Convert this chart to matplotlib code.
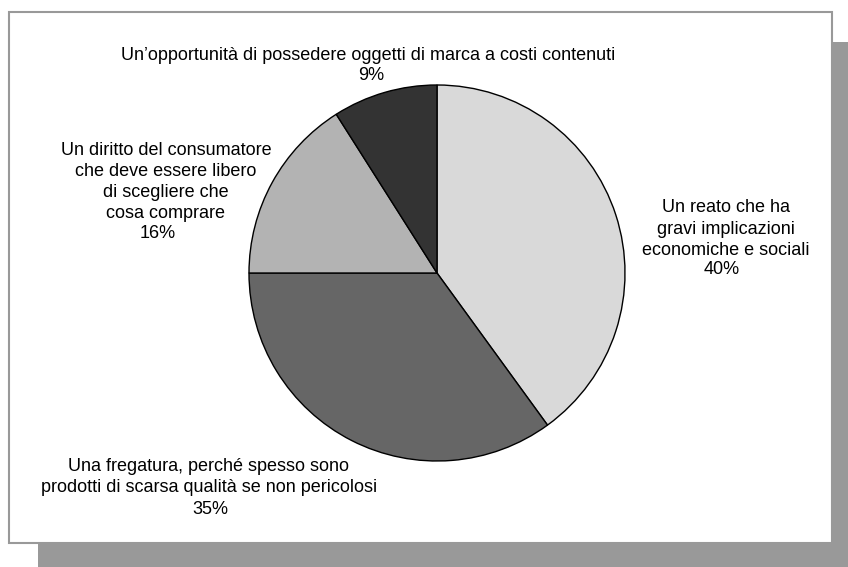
import matplotlib
matplotlib.use("Agg")
import matplotlib.pyplot as plt
from matplotlib.patches import Rectangle

plt.rcParams['font.family'] = ['Liberation Sans', 'DejaVu Sans']

# Survey answers and their shares (percent)
categories = [
    "Un reato che ha\ngravi implicazioni\neconomiche e sociali",
    "Una fregatura, perché spesso sono\nprodotti di scarsa qualità se non pericolosi",
    "Un diritto del consumatore\nche deve essere libero\ndi scegliere che\ncosa comprare",
    "Un’opportunità di possedere oggetti di marca a costi contenuti",
]
values = [40, 35, 16, 9]
colors = ["#d9d9d9", "#666666", "#b3b3b3", "#333333"]

# Label layout in pixels (origin top-left):
# (text centre x, text block centre y, percent x, percent y)
label_layout = [
    (726, 229, 722, 269),
    (209, 477, 210, 510),
    (166, 182, 158, 234),
    (368, 56, 371, 76),
]

W, H = 848, 567
fig = plt.figure(figsize=(W / 100, H / 100), dpi=100)
ax = fig.add_axes([0, 0, 1, 1])

# drop shadow and framed panel
ax.add_patch(Rectangle((38, -20), 900, H - 42 + 20, facecolor="#999999",
                       edgecolor="none", zorder=0))
ax.add_patch(Rectangle((8.5, H - 543), 823, 531, facecolor="white",
                       edgecolor="#999999", linewidth=1.5, zorder=1))

cx, cy, r = 437, H - 273, 188
ax.pie(values, colors=colors, startangle=90, counterclock=False,
       center=(cx, cy), radius=r, frame=True,
       wedgeprops=dict(edgecolor="black", linewidth=1.0, zorder=2))
ax.set_xlim(0, W)
ax.set_ylim(0, H)
ax.set_aspect('equal')
ax.axis('off')

fs = 13.0
for text, v, (tx, ty, px, py) in zip(categories, values, label_layout):
    ax.text(tx, H - ty, text, ha="center", va="center",
            fontsize=fs, color="black", linespacing=1.32, zorder=3)
    ax.text(px, H - py, f"{v}%", ha="center", va="center",
            fontsize=fs, color="black", zorder=3)

fig.savefig("out.png", dpi=100)
